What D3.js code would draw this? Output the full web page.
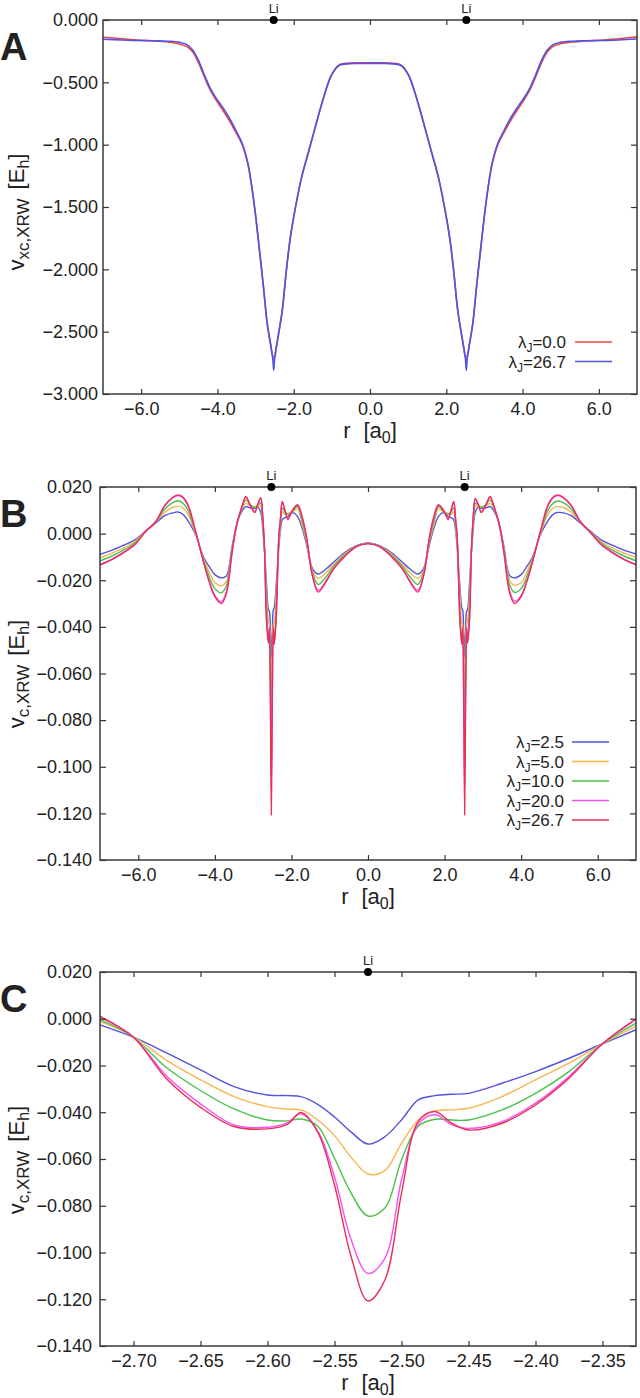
<!DOCTYPE html>
<html lang="en">
<head>
<meta charset="UTF-8" />
<title>Li2 exchange-correlation potentials</title>
<script src="https://d3js.org/d3.v7.min.js"></script>
<style>
  body { margin: 0; background: #fff; }
  svg text { font-family: "Liberation Sans", Arial, Helvetica, sans-serif; fill: #222; }
</style>
</head>
<body>
<svg width="640" height="1398"></svg>
<script>
// ---------- panel A : v_xc,XRW ----------
const rA = [-7.0, -6.5, -6.1, -5.7, -5.3, -5.0, -4.8, -4.65, -4.5, -4.35, -4.2, -4.05, -3.9, -3.7, -3.5, -3.35,
  -3.2, -3.1, -3.0, -2.9, -2.8, -2.7, -2.65, -2.6, -2.55, -2.525, -2.5, -2.45, -2.4, -2.3, -2.2, -2.1, -2.0,
  -1.8, -1.6, -1.4, -1.2, -1.0, -0.8, -0.4, 0,
  0.4, 0.8, 1.0, 1.2, 1.4, 1.6, 1.8, 2.0, 2.1, 2.2, 2.3, 2.4, 2.45, 2.5, 2.525, 2.55, 2.6, 2.65, 2.7, 2.8,
  2.9, 3.0, 3.1, 3.2, 3.35, 3.5, 3.7, 3.9, 4.05, 4.2, 4.35, 4.5, 4.65, 4.8, 5.0, 5.3, 5.7, 6.1, 6.5, 7.0];

const vxcLam0 = [-0.138, -0.150, -0.160, -0.167, -0.177, -0.192, -0.214, -0.255, -0.340, -0.450, -0.555, -0.635,
  -0.705, -0.800, -0.910, -1.000, -1.160, -1.340, -1.570, -1.840, -2.120, -2.420, -2.520, -2.610, -2.700, -2.700,
  -2.700, -2.610, -2.520, -2.330, -2.030, -1.770, -1.580, -1.270, -1.045, -0.820, -0.605, -0.435, -0.358, -0.344,
  -0.343,
  -0.344, -0.358, -0.435, -0.605, -0.820, -1.045, -1.270, -1.580, -1.770, -2.030, -2.330, -2.520, -2.610, -2.700,
  -2.700, -2.700, -2.610, -2.520, -2.420, -2.120, -1.840, -1.570, -1.340, -1.160, -1.000, -0.910, -0.800, -0.705,
  -0.635, -0.555, -0.450, -0.340, -0.255, -0.212, -0.190, -0.177, -0.167, -0.160, -0.150, -0.135];

const vxcLam267 = [-0.155, -0.160, -0.165, -0.167, -0.170, -0.178, -0.198, -0.240, -0.322, -0.435, -0.540, -0.620,
  -0.685, -0.780, -0.895, -0.990, -1.150, -1.335, -1.565, -1.840, -2.120, -2.425, -2.525, -2.615, -2.710, -2.810,
  -2.710, -2.615, -2.525, -2.330, -2.030, -1.770, -1.580, -1.270, -1.045, -0.820, -0.605, -0.437, -0.363, -0.349,
  -0.348,
  -0.349, -0.363, -0.437, -0.605, -0.820, -1.045, -1.270, -1.580, -1.770, -2.030, -2.330, -2.525, -2.615, -2.710,
  -2.810, -2.710, -2.615, -2.525, -2.425, -2.120, -1.840, -1.565, -1.335, -1.150, -0.990, -0.895, -0.780, -0.685,
  -0.620, -0.540, -0.435, -0.322, -0.240, -0.198, -0.178, -0.170, -0.167, -0.165, -0.160, -0.152];

const lambdaA = ["0.0", "26.7"];
const xTicksAB = [-6, -4, -2, 0, 2, 4, 6];
const yTicksA = [0, -0.5, -1.0, -1.5, -2.0, -2.5, -3.0];

// ---------- panel B : v_c,XRW over the whole molecule ----------
const rB = [-7.0, -6.7, -6.4, -6.1, -5.8, -5.55, -5.3, -5.1, -4.97, -4.85, -4.7, -4.5, -4.3, -4.15, -4.0, -3.83,
  -3.7, -3.55, -3.42, -3.3, -3.19, -3.07, -2.96, -2.88, -2.8, -2.76,
  -2.725, -2.7, -2.65, -2.6, -2.575, -2.55, -2.525, -2.5, -2.475, -2.45, -2.4, -2.35, -2.325,
  -2.29, -2.24, -2.17, -2.09, -1.97, -1.84, -1.72, -1.6, -1.45, -1.3, -1.1, -0.9, -0.6, -0.3,
  0,
  0.3, 0.6, 0.9, 1.1, 1.3, 1.45, 1.6, 1.72, 1.84, 1.97, 2.09, 2.17, 2.24, 2.29,
  2.325, 2.35, 2.4, 2.45, 2.475, 2.5, 2.525, 2.55, 2.575, 2.6, 2.65, 2.7, 2.725,
  2.76, 2.8, 2.88, 2.96, 3.07, 3.19, 3.3, 3.42, 3.55, 3.7, 3.83, 4.0, 4.15, 4.3, 4.5, 4.7, 4.85, 4.97, 5.1,
  5.3, 5.55, 5.8, 6.1, 6.4, 6.7, 7.0];

const vcB25 = [-0.0089, -0.0072, -0.0051, -0.0028, 0.0012, 0.0045, 0.0078, 0.0089, 0.0093, 0.0085, 0.0055, -0.0006,
  -0.0099, -0.0141, -0.0176, -0.0190, -0.0182, -0.0055, 0.0045, 0.0094, 0.0116, 0.0110, 0.0109, 0.0115, 0.0090, 0.0045,
  -0.0026, -0.0079, -0.0219, -0.0326, -0.0333, -0.0420, -0.0536, -0.0433, -0.0329, -0.0319, -0.0226, -0.0107, -0.0047,
  0.0008, 0.0059, 0.0069, 0.0073, 0.0090, 0.0073, 0.0023, -0.0050, -0.0150, -0.0173, -0.0152, -0.0123, -0.0080, -0.0052,
  -0.0040,
  -0.0052, -0.0080, -0.0123, -0.0152, -0.0173, -0.0150, -0.0050, 0.0023, 0.0073, 0.0090, 0.0073, 0.0069, 0.0059, 0.0008,
  -0.0047, -0.0107, -0.0226, -0.0319, -0.0329, -0.0433, -0.0536, -0.0420, -0.0333, -0.0326, -0.0219, -0.0079, -0.0026,
  0.0045, 0.0090, 0.0115, 0.0109, 0.0110, 0.0116, 0.0094, 0.0045, -0.0055, -0.0180, -0.0190, -0.0176, -0.0141, -0.0099,
  -0.0006, 0.0055, 0.0085, 0.0091, 0.0089, 0.0078, 0.0045, 0.0012, -0.0028, -0.0051, -0.0072, -0.0087];

const vcB50 = [-0.0105, -0.0085, -0.0062, -0.0035, 0.0012, 0.0048, 0.0093, 0.0112, 0.0118, 0.0112, 0.0082, -0.0003,
  -0.0105, -0.0165, -0.0210, -0.0224, -0.0205, -0.0063, 0.0045, 0.0102, 0.0130, 0.0118, 0.0116, 0.0118, 0.0120, 0.0060,
  -0.0011, -0.0076, -0.0261, -0.0376, -0.0390, -0.0500, -0.0664, -0.0533, -0.0394, -0.0383, -0.0261, -0.0107, -0.0030,
  0.0018, 0.0094, 0.0083, 0.0087, 0.0094, 0.0106, 0.0040, -0.0040, -0.0160, -0.0192, -0.0168, -0.0132, -0.0085, -0.0053,
  -0.0041,
  -0.0053, -0.0085, -0.0132, -0.0168, -0.0192, -0.0160, -0.0040, 0.0040, 0.0106, 0.0094, 0.0087, 0.0083, 0.0094, 0.0018,
  -0.0030, -0.0107, -0.0261, -0.0383, -0.0394, -0.0533, -0.0664, -0.0500, -0.0390, -0.0376, -0.0261, -0.0076, -0.0011,
  0.0060, 0.0120, 0.0118, 0.0116, 0.0118, 0.0130, 0.0102, 0.0045, -0.0063, -0.0200, -0.0222, -0.0210, -0.0165, -0.0105,
  -0.0003, 0.0082, 0.0112, 0.0116, 0.0112, 0.0093, 0.0048, 0.0010, -0.0035, -0.0062, -0.0085, -0.0103];

const vcB100 = [-0.0117, -0.0097, -0.0072, -0.0041, 0.0010, 0.0050, 0.0107, 0.0133, 0.0141, 0.0133, 0.0100, 0.0002,
  -0.0112, -0.0185, -0.0236, -0.0254, -0.0225, -0.0070, 0.0045, 0.0108, 0.0144, 0.0124, 0.0111, 0.0124, 0.0130, 0.0075,
  -0.0004, -0.0079, -0.0307, -0.0433, -0.0429, -0.0597, -0.0844, -0.0604, -0.0430, -0.0433, -0.0319, -0.0107, -0.0019,
  0.0035, 0.0109, 0.0094, 0.0083, 0.0097, 0.0116, 0.0055, -0.0030, -0.0170, -0.0218, -0.0186, -0.0141, -0.0090, -0.0054,
  -0.0042,
  -0.0054, -0.0090, -0.0141, -0.0186, -0.0218, -0.0170, -0.0030, 0.0055, 0.0116, 0.0097, 0.0083, 0.0094, 0.0109, 0.0035,
  -0.0019, -0.0107, -0.0319, -0.0433, -0.0430, -0.0604, -0.0844, -0.0597, -0.0429, -0.0433, -0.0307, -0.0079, -0.0004,
  0.0075, 0.0130, 0.0124, 0.0111, 0.0124, 0.0144, 0.0108, 0.0045, -0.0070, -0.0220, -0.0252, -0.0236, -0.0185, -0.0112,
  0.0002, 0.0100, 0.0133, 0.0140, 0.0133, 0.0107, 0.0050, 0.0008, -0.0041, -0.0072, -0.0097, -0.0116];

const vcB200 = [-0.0132, -0.0110, -0.0081, -0.0047, 0.0010, 0.0050, 0.0120, 0.0153, 0.0163, 0.0155, 0.0118, 0.0006,
  -0.0118, -0.0202, -0.0265, -0.0292, -0.0250, -0.0077, 0.0045, 0.0111, 0.0156, 0.0120, 0.0094, 0.0125, 0.0149, 0.0095,
  0.0007, -0.0079, -0.0364, -0.0464, -0.0407, -0.0676, -0.1090, -0.0690, -0.0411, -0.0469, -0.0361, -0.0107, -0.0004,
  0.0055, 0.0137, 0.0100, 0.0066, 0.0101, 0.0123, 0.0068, -0.0022, -0.0180, -0.0243, -0.0203, -0.0149, -0.0095, -0.0055,
  -0.0043,
  -0.0055, -0.0095, -0.0149, -0.0203, -0.0243, -0.0180, -0.0022, 0.0068, 0.0123, 0.0101, 0.0066, 0.0100, 0.0137, 0.0055,
  -0.0004, -0.0107, -0.0361, -0.0469, -0.0411, -0.0690, -0.1090, -0.0676, -0.0407, -0.0464, -0.0364, -0.0079, 0.0007,
  0.0095, 0.0149, 0.0125, 0.0094, 0.0120, 0.0156, 0.0111, 0.0045, -0.0077, -0.0245, -0.0290, -0.0265, -0.0202, -0.0118,
  0.0006, 0.0118, 0.0155, 0.0163, 0.0153, 0.0120, 0.0050, 0.0007, -0.0047, -0.0081, -0.0110, -0.0131];

const vcB267 = [-0.0135, -0.0113, -0.0084, -0.0049, 0.0012, 0.0051, 0.0123, 0.0156, 0.0166, 0.0159, 0.0123, 0.0008,
  -0.0120, -0.0206, -0.0270, -0.0300, -0.0258, -0.0080, 0.0045, 0.0112, 0.0159, 0.0120, 0.0090, 0.0125, 0.0154, 0.0100,
  0.0010, -0.0079, -0.0379, -0.0471, -0.0401, -0.0711, -0.1207, -0.0747, -0.0397, -0.0476, -0.0369, -0.0107, 0.0000,
  0.0060, 0.0137, 0.0100, 0.0061, 0.0101, 0.0123, 0.0073, -0.0020, -0.0182, -0.0251, -0.0208, -0.0152, -0.0097, -0.0056,
  -0.0043,
  -0.0056, -0.0097, -0.0152, -0.0208, -0.0251, -0.0182, -0.0020, 0.0073, 0.0123, 0.0101, 0.0061, 0.0100, 0.0137, 0.0060,
  0.0000, -0.0107, -0.0369, -0.0476, -0.0397, -0.0747, -0.1207, -0.0711, -0.0401, -0.0471, -0.0379, -0.0079, 0.0010,
  0.0100, 0.0151, 0.0125, 0.0090, 0.0120, 0.0159, 0.0112, 0.0045, -0.0080, -0.0255, -0.0300, -0.0270, -0.0206, -0.0120,
  0.0008, 0.0123, 0.0159, 0.0166, 0.0156, 0.0123, 0.0051, 0.0006, -0.0049, -0.0084, -0.0113, -0.0134];

const lambdaBC = ["2.5", "5.0", "10.0", "20.0", "26.7"];
const yTicksBC = [0.02, 0, -0.02, -0.04, -0.06, -0.08, -0.10, -0.12, -0.14];

// ---------- panel C : zoom on the left Li nucleus ----------
const rC = [-2.725, -2.7, -2.675, -2.65, -2.625, -2.6, -2.585, -2.575, -2.5625, -2.55, -2.5375, -2.525, -2.5125,
  -2.5, -2.4875, -2.475, -2.4625, -2.45, -2.425, -2.4, -2.375, -2.35, -2.325];

const vcC25 = [-0.0026, -0.0079, -0.0147, -0.0219, -0.0290, -0.0326, -0.0329, -0.0333, -0.0366, -0.0420, -0.0485,
  -0.0536, -0.0505, -0.0433, -0.0347, -0.0329, -0.0323, -0.0319, -0.0276, -0.0226, -0.0169, -0.0107, -0.0047];
const vcC50 = [-0.0011, -0.0076, -0.0179, -0.0261, -0.0333, -0.0376, -0.0387, -0.0390, -0.0433, -0.0500, -0.0593,
  -0.0664, -0.0650, -0.0533, -0.0433, -0.0394, -0.0390, -0.0383, -0.0333, -0.0261, -0.0190, -0.0107, -0.0030];
const vcC100 = [-0.0004, -0.0079, -0.0211, -0.0307, -0.0386, -0.0433, -0.0437, -0.0429, -0.0460, -0.0597, -0.0747,
  -0.0844, -0.0811, -0.0604, -0.0460, -0.0430, -0.0433, -0.0433, -0.0390, -0.0319, -0.0226, -0.0107, -0.0019];
const vcC200 = [0.0007, -0.0079, -0.0247, -0.0364, -0.0454, -0.0464, -0.0444, -0.0407, -0.0480, -0.0676, -0.0947,
  -0.1090, -0.1026, -0.0690, -0.0451, -0.0411, -0.0454, -0.0469, -0.0440, -0.0361, -0.0247, -0.0107, -0.0004];
const vcC267 = [0.0010, -0.0079, -0.0259, -0.0379, -0.0461, -0.0471, -0.0451, -0.0401, -0.0485, -0.0711, -0.1019,
  -0.1207, -0.1119, -0.0747, -0.0440, -0.0397, -0.0447, -0.0476, -0.0447, -0.0369, -0.0254, -0.0107, 0.0000];

const xTicksC = [-2.70, -2.65, -2.60, -2.55, -2.50, -2.45, -2.40, -2.35];
const liA = [-2.525, 2.525];
const liC = [-2.525];

const colorsBC = ["#5252e0", "#f7b650", "#48c248", "#f552f5", "#ea2f55"];

const svg = d3.select("svg");

function drawPanel(p) {
  const x = d3.scaleLinear().domain(p.xDomain).range([p.left, p.right]);
  const y = d3.scaleLinear().domain(p.yDomain).range([p.bottom, p.top]);
  const g = svg.append("g");

  p.series.forEach(s => {
    if (s.values.length !== p.r.length) throw new Error("length mismatch " + s.label);
  });

  const line = d3.line()
    .x(d => x(d[0]))
    .y(d => y(d[1]))
    .curve(d3.curveCatmullRom.alpha(0.5));

  p.series.forEach(s => {
    g.append("path")
      .datum(p.r.map((r, i) => [r, s.values[i]]))
      .attr("fill", "none")
      .attr("stroke", s.color)
      .attr("stroke-width", p.lineWidth)
      .attr("stroke-linejoin", "round")
      .attr("d", line);
  });

  // axes, ticks pointing inwards on all four sides
  g.append("g").attr("transform", `translate(0,${p.bottom})`)
    .call(d3.axisBottom(x).tickValues(p.xTicks).tickFormat(d3.format(p.xFmt)).tickSize(-5).tickPadding(8));
  g.append("g").attr("transform", `translate(0,${p.top})`)
    .call(d3.axisTop(x).tickValues(p.xTicks).tickFormat("").tickSize(-5));
  g.append("g").attr("transform", `translate(${p.left},0)`)
    .call(d3.axisLeft(y).tickValues(p.yTicks).tickFormat(d3.format(p.yFmt)).tickSize(-6).tickPadding(p.yPad));
  g.append("g").attr("transform", `translate(${p.right},0)`)
    .call(d3.axisRight(y).tickValues(p.yTicks).tickFormat("").tickSize(-6));
  g.selectAll(".domain").remove();
  g.selectAll(".tick line").attr("stroke", "#333").attr("stroke-width", 1.2);
  g.selectAll(".tick text")
    .attr("font-size", 18)
    .attr("font-family", '"Liberation Sans", Arial, sans-serif')
    .attr("fill", "#222");

  g.append("rect")
    .attr("x", p.left).attr("y", p.top)
    .attr("width", p.right - p.left).attr("height", p.bottom - p.top)
    .attr("fill", "none").attr("stroke", "#3a3a3a").attr("stroke-width", 1.5);

  // Li positions on the top axis
  p.li.forEach(r => {
    g.append("circle").attr("cx", x(r)).attr("cy", p.top).attr("r", 4).attr("fill", "#000");
    g.append("text").attr("x", x(r)).attr("y", p.top - 7)
      .attr("text-anchor", "middle").attr("font-size", 13).text("Li");
  });

  // panel letter
  g.append("text").attr("x", 0).attr("y", p.top + 40)
    .attr("font-size", 38).attr("font-weight", "bold").attr("fill", "#111").text(p.letter);

  // y axis title
  const yl = g.append("text")
    .attr("transform", `translate(24,${p.yLabelY}) rotate(-90)`)
    .attr("text-anchor", "middle").attr("font-size", 22);
  yl.append("tspan").text("v");
  yl.append("tspan").attr("font-size", 17).attr("dy", 5).text(p.ySub);
  yl.append("tspan").attr("dy", -5).attr("dx", 9).text("[E");
  yl.append("tspan").attr("font-size", 16).attr("dy", 5).text("h");
  yl.append("tspan").attr("dy", -5).text("]");

  // x axis title
  const xl = g.append("text")
    .attr("x", (p.left + p.right) / 2).attr("y", p.bottom + 44)
    .attr("text-anchor", "middle").attr("font-size", 22);
  xl.append("tspan").text("r");
  xl.append("tspan").attr("dx", 13).text("[a");
  xl.append("tspan").attr("font-size", 16).attr("dy", 5).text("0");
  xl.append("tspan").attr("dy", -5).text("]");

  // legend
  if (p.legend) {
    p.series.forEach((s, i) => {
      const yy = p.legend.y0 + i * p.legend.dy;
      const t = g.append("text").attr("x", p.legend.textEnd).attr("y", yy + 6)
        .attr("text-anchor", "end").attr("font-size", 17);
      t.append("tspan").text("λ");
      t.append("tspan").attr("font-size", 12).attr("dy", 4).text("J");
      t.append("tspan").attr("dy", -4).text("=" + s.label);
      g.append("line")
        .attr("x1", p.legend.x1).attr("x2", p.legend.x2)
        .attr("y1", yy).attr("y2", yy)
        .attr("stroke", s.color).attr("stroke-width", p.lineWidth);
    });
  }
}

drawPanel({
  letter: "A", left: 103, right: 637, top: 20, bottom: 394,
  xDomain: [-7, 7], yDomain: [-3, 0], xTicks: xTicksAB, yTicks: yTicksA,
  xFmt: ".1f", yFmt: ".3f", yPad: 5, lineWidth: 1.6,
  r: rA, li: liA, ySub: "xc,XRW", yLabelY: 212,
  series: [
    { label: lambdaA[0], values: vxcLam0, color: "#ee4545" },
    { label: lambdaA[1], values: vxcLam267, color: "#5252e4" }
  ],
  legend: { y0: 342, dy: 19.5, textEnd: 566, x1: 575, x2: 612 }
});

drawPanel({
  letter: "B", left: 100, right: 636, top: 487, bottom: 860,
  xDomain: [-7, 7], yDomain: [-0.14, 0.02], xTicks: xTicksAB, yTicks: yTicksBC,
  xFmt: ".1f", yFmt: ".3f", yPad: 8, lineWidth: 1.4,
  r: rB, li: liA, ySub: "c,XRW", yLabelY: 674,
  series: [vcB25, vcB50, vcB100, vcB200, vcB267].map((v, i) => ({ label: lambdaBC[i], values: v, color: colorsBC[i] })),
  legend: { y0: 742, dy: 19.5, textEnd: 564, x1: 572, x2: 609 }
});

drawPanel({
  letter: "C", left: 100, right: 636, top: 972, bottom: 1346,
  xDomain: [-2.725, -2.325], yDomain: [-0.14, 0.02], xTicks: xTicksC, yTicks: yTicksBC,
  xFmt: ".2f", yFmt: ".3f", yPad: 8, lineWidth: 1.4,
  r: rC, li: liC, ySub: "c,XRW", yLabelY: 1160,
  series: [vcC25, vcC50, vcC100, vcC200, vcC267].map((v, i) => ({ label: lambdaBC[i], values: v, color: colorsBC[i] })),
  legend: null
});
</script>
</body>
</html>
